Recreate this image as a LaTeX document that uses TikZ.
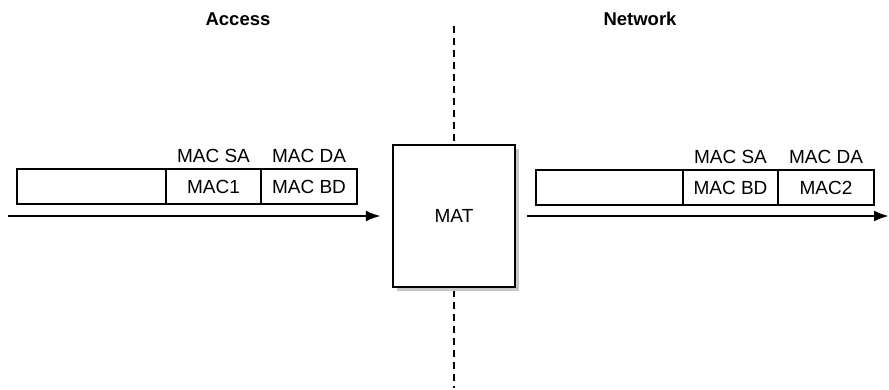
\documentclass[tikz,border=0pt]{standalone}
\usepackage{fontspec}
\setmainfont{Liberation Sans}
\usepackage{tikz}
\usetikzlibrary{arrows.meta,positioning,shadows}

\tikzset{
  cell/.style={draw, line width=2pt, minimum height=35pt, inner sep=0pt, outer sep=0pt},
  hdr/.style={font=\fontsize{19}{21}\selectfont, anchor=base, inner sep=0pt},
  flow/.style={line width=2.6pt, -{Latex[length=15pt,width=11pt]}},
  side/.style={font=\bfseries\fontsize{18.5}{20}\selectfont}
}

\begin{document}
\begin{tikzpicture}[x=1pt, y=-1pt, font=\fontsize{19}{21}\selectfont]
\useasboundingbox (0,0) rectangle (889,390);
% regions
\node[side] (access) at (238,19) {Access};
\node[side] (network) at (640,19) {Network};
% boundary
\coordinate (btop) at (454,26);
\coordinate (bbot) at (454,388);
\draw[line width=1.5pt, dash pattern=on 7pt off 5pt] (btop) -- (bbot);
\node[draw, fill=white, line width=2.2pt, minimum width=122pt, minimum height=142pt,
  drop shadow={shadow xshift=4pt, shadow yshift=-4pt, fill=black!22, opacity=1}]
  (mat) at (454,216) {MAT};
% access frame
\node[cell, minimum width=149pt, anchor=north west] (a0) at (17,169) {};
\node[cell, minimum width=95pt, right=0pt of a0] (a1) {MAC1};
\node[cell, minimum width=96pt, right=0pt of a1] (a2) {MAC BD};
\node[hdr] (asa) at ([yshift=6pt]a1.north) {MAC SA};
\node[hdr] (ada) at ([yshift=6pt]a2.north) {MAC DA};
% network frame
\node[cell, minimum width=147pt, anchor=north west] (n0) at (536,170) {};
\node[cell, minimum width=95pt, right=0pt of n0] (n1) {MAC BD};
\node[cell, minimum width=96pt, right=0pt of n1] (n2) {MAC2};
\node[hdr] (nsa) at ([yshift=6pt]n1.north) {MAC SA};
\node[hdr] (nda) at ([yshift=6pt]n2.north) {MAC DA};
% traffic
\coordinate (src) at (8,216);
\coordinate (dst) at (889,216);
\draw[flow] (src) -- ([xshift=-11pt]mat.west);
\draw[flow] ([xshift=11pt]mat.east) -- (dst);
\end{tikzpicture}
\end{document}
